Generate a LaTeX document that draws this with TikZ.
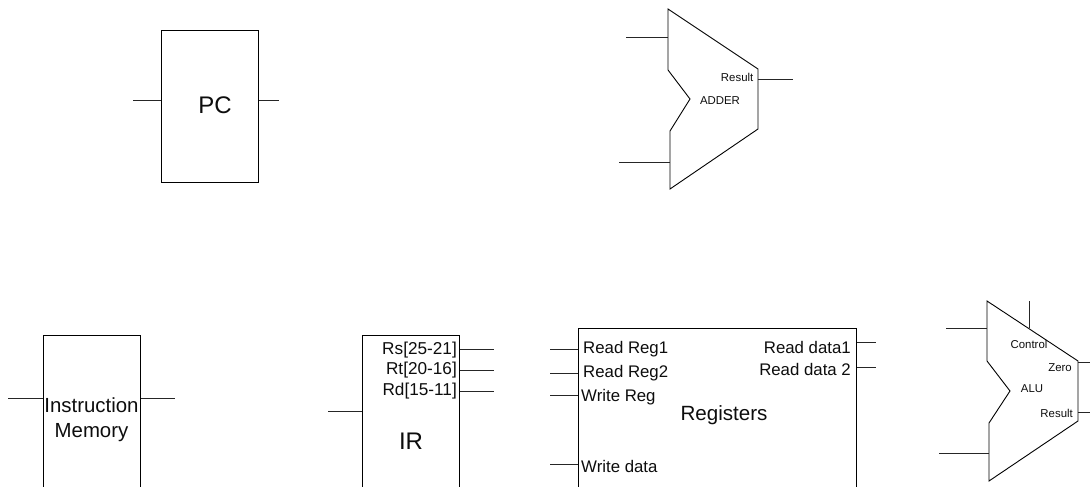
\documentclass[tikz,border=0pt]{standalone}
\usepackage{fontspec}
\setmainfont{Liberation Sans}
\tikzset{
  block/.style={draw=black,line width=0.9pt,inner sep=0pt,anchor=north west},
  wire/.style={draw=black!85,line width=0.9pt},
  outline/.style={draw=black,line width=0.9pt,line join=miter},
  lab/.style={inner sep=0pt,align=center,text=black!95},
  big/.style={lab,font=\fontsize{24}{26}\selectfont},
  huge/.style={lab,font=\fontsize{20.4}{25}\selectfont},
  mid/.style={lab,font=\fontsize{17.2}{19}\selectfont},
  port/.style={lab,font=\fontsize{16.8}{19}\selectfont},
  tiny/.style={lab,font=\fontsize{11.4}{13}\selectfont},
}
\begin{document}
\begin{tikzpicture}[x=1pt,y=-1pt]
\useasboundingbox (0,0) rectangle (1090,487);
\clip (0,0) rectangle (1090,487);
% PC
\node[block,minimum width=97pt,minimum height=152pt] (pc) at (161,30) {};
\node[big] (pclab) at (215,105) {PC};
\coordinate (pcin) at (133,100);
\coordinate (pcout) at (279,100);
\draw[wire] (pcin) -- (pcin -| pc.west);
\draw[wire] (pc.east |- pcout) -- (pcout);
% Adder
\coordinate (a1) at (668,9);
\coordinate (a2) at (668,70);
\coordinate (a3) at (690,99);
\coordinate (a4) at (670,131);
\coordinate (a5) at (670,189);
\coordinate (a6) at (758,129);
\coordinate (a7) at (758,69);
\draw[outline] (a1) -- (a2) -- (a3) -- (a4) -- (a5) -- (a6) -- (a7) -- cycle;
\node[tiny,anchor=east] (ares) at (753.5,77) {Result};
\node[tiny] (alab) at (720,101) {ADDER};
\coordinate (ain1) at (626,37);
\coordinate (ain2) at (619,162);
\coordinate (aout) at (793,79);
\draw[wire] (ain1) -- (ain1 -| a1);
\draw[wire] (ain2) -- (ain2 -| a5);
\draw[wire] (aout -| a7) -- (aout);
% Instruction memory
\node[block,minimum width=97pt,minimum height=200pt] (im) at (43,335) {};
\node[huge] (imlab) at (91.5,420) {Instruction\\Memory};
\coordinate (imin) at (8,398);
\coordinate (imout) at (175,398);
\draw[wire] (imin) -- (imin -| im.west);
\draw[wire] (im.east |- imout) -- (imout);
% IR
\node[block,minimum width=97pt,minimum height=200pt] (ir) at (362,335) {};
\node[big] (irlab) at (411,441) {IR};
\node[mid,anchor=east] (rs) at (457,350) {Rs[25-21]};
\node[mid,anchor=east] (rt) at (457,370) {Rt[20-16]};
\node[mid,anchor=east] (rd) at (457,391) {Rd[15-11]};
\coordinate (irin) at (328,411);
\coordinate (rsout) at (494,349);
\coordinate (rtout) at (494,370);
\coordinate (rdout) at (494,391);
\draw[wire] (irin) -- (irin -| ir.west);
\draw[wire] (ir.east |- rsout) -- (rsout);
\draw[wire] (ir.east |- rtout) -- (rtout);
\draw[wire] (ir.east |- rdout) -- (rdout);
% Registers
\node[block,minimum width=278pt,minimum height=220pt] (reg) at (578,328) {};
\node[lab,font=\fontsize{20.6}{23}\selectfont] (reglab) at (724,415) {Registers};
\node[port,anchor=west] (rr1) at (583,349) {Read Reg1};
\node[port,anchor=west] (rr2) at (583,373) {Read Reg2};
\node[port,anchor=west] (wr) at (581,397) {Write Reg};
\node[port,anchor=west] (wd) at (581,466) {Write data};
\node[port,anchor=east] (rd1) at (851,347) {Read data1};
\node[port,anchor=east] (rd2) at (851,369) {Read data 2};
\coordinate (rr1in) at (550,349);
\coordinate (rr2in) at (550,373);
\coordinate (wrin) at (550,395);
\coordinate (wdin) at (550,464);
\coordinate (rd1out) at (876,342);
\coordinate (rd2out) at (876,367);
\draw[wire] (rr1in) -- (rr1in -| reg.west);
\draw[wire] (rr2in) -- (rr2in -| reg.west);
\draw[wire] (wrin) -- (wrin -| reg.west);
\draw[wire] (wdin) -- (wdin -| reg.west);
\draw[wire] (reg.east |- rd1out) -- (rd1out);
\draw[wire] (reg.east |- rd2out) -- (rd2out);
% ALU
\coordinate (b1) at (987,301);
\coordinate (b2) at (987,361);
\coordinate (b3) at (1010,391);
\coordinate (b4) at (989,423);
\coordinate (b5) at (989,481);
\coordinate (b6) at (1078,421);
\coordinate (b7) at (1078,361);
\draw[outline] (b1) -- (b2) -- (b3) -- (b4) -- (b5) -- (b6) -- (b7) -- cycle;
\node[tiny] (ctl) at (1029,344) {Control};
\node[tiny] (zero) at (1060,368) {Zero};
\node[tiny] (alu) at (1032,389) {ALU};
\node[tiny,anchor=east] (bres) at (1073,413) {Result};
\coordinate (bin1) at (946,328);
\coordinate (bin2) at (939,453);
\coordinate (ctop) at (1029,301);
\coordinate (cbot) at (1029,328);
\coordinate (zout) at (1090,362);
\coordinate (rout) at (1090,412);
\draw[wire] (bin1) -- (bin1 -| b1);
\draw[wire] (bin2) -- (bin2 -| b5);
\draw[wire] (ctop) -- (cbot);
\draw[wire] (zout -| b7) -- (zout);
\draw[wire] (rout -| b7) -- (rout);
\end{tikzpicture}
\end{document}
